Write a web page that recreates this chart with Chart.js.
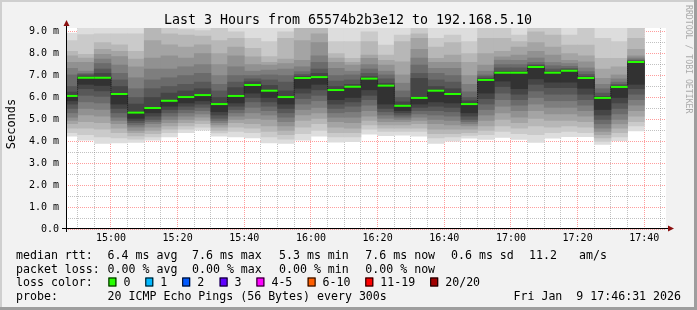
<!DOCTYPE html>
<html><head><meta charset="utf-8">
<script src="https://cdn.jsdelivr.net/npm/chart.js@4.4.1/dist/chart.umd.min.js"></script>
<style>html,body{margin:0;padding:0;background:#f2f2f2}canvas{display:block}</style>
</head><body>
<canvas id="c" width="697" height="310"></canvas>
<script>
// ---- data ----
const windowStart = '14:46:31';
const windowEnd = '17:46:31';
const slotStarts = ['14:45','14:50','14:55','15:00','15:05','15:10','15:15','15:20','15:25','15:30','15:35','15:40','15:45','15:50','15:55','16:00','16:05','16:10','16:15','16:20','16:25','16:30','16:35','16:40','16:45','16:50','16:55','17:00','17:05','17:10','17:15','17:20','17:25','17:30','17:35'];
const medians = [6.07,6.90,6.90,6.16,5.31,5.52,5.85,6.02,6.11,5.70,6.07,6.57,6.31,6.02,6.89,6.93,6.34,6.49,6.86,6.54,5.62,5.98,6.31,6.16,5.70,6.80,7.13,7.13,7.39,7.13,7.22,6.89,5.98,6.48,7.62];
// 20 sorted ping times (ms) per 5-minute slot
const sortedPings = [
  [4.23,4.4,4.6,4.8,4.95,5.1,5.3,5.5,5.7,5.85,6.08,6.25,6.5,7.03,7.33,7.6,7.9,8.1,8.6,8.94],
  [4.05,4.3,4.6,4.9,5.2,5.5,5.8,6.1,6.4,6.6,6.92,6.98,7.05,7.1,7.2,7.6,7.8,7.97,8.87,9.3],
  [3.90,4.2,4.55,4.85,5.15,5.45,5.75,6.05,6.3,6.55,6.92,7.1,7.3,7.55,7.75,7.97,8.2,8.5,8.9,9.3],
  [3.93,4.15,4.4,4.6,4.8,4.95,5.1,5.3,5.5,5.7,6.18,6.5,6.8,7.1,7.48,7.87,8.1,8.4,8.9,9.3],
  [3.95,4.1,4.25,4.4,4.5,4.65,4.75,4.85,4.95,5.05,5.33,5.7,6.0,6.4,6.9,7.4,7.75,8.1,8.9,9.3],
  [4.05,4.2,4.35,4.5,4.65,4.8,4.9,5.0,5.15,5.3,5.55,6.0,6.4,6.8,7.3,7.8,8.6,9.2,9.25,9.3],
  [4.20,4.4,4.55,4.7,4.85,5.0,5.15,5.3,5.45,5.6,5.87,6.2,6.5,6.9,7.3,7.9,8.4,8.9,9.2,9.3],
  [4.39,4.55,4.7,4.85,5.0,5.15,5.3,5.45,5.6,5.75,6.04,6.3,6.6,7.0,7.4,7.8,8.3,8.85,9.1,9.3],
  [4.51,4.65,4.8,4.95,5.1,5.25,5.4,5.55,5.7,5.85,6.13,6.4,6.7,7.1,7.5,8.0,8.4,8.8,9.05,9.3],
  [4.23,4.38,4.5,4.65,4.75,4.85,4.95,5.05,5.2,5.35,5.72,6.0,6.3,6.6,7.0,7.5,8.0,8.6,9.2,9.3],
  [4.20,4.45,4.65,4.85,5.0,5.15,5.3,5.45,5.6,5.75,6.09,6.45,6.7,7.0,7.4,7.9,8.3,8.7,9.0,9.3],
  [4.16,4.4,4.6,4.8,5.05,5.3,5.55,5.8,6.0,6.2,6.59,6.72,6.85,7.0,7.2,7.5,7.85,8.24,8.7,9.3],
  [3.93,4.2,4.45,4.7,5.0,5.2,5.4,5.6,5.8,6.0,6.33,6.55,6.8,7.03,7.25,7.48,7.6,7.87,8.55,9.3],
  [3.90,4.1,4.3,4.5,4.7,4.9,5.1,5.3,5.5,5.7,6.04,6.3,6.7,7.0,7.3,7.55,7.75,8.7,9.0,9.3],
  [4.05,4.35,4.65,4.95,5.2,5.45,5.7,5.95,6.2,6.42,6.91,6.97,7.05,7.18,7.4,7.7,8.6,9.2,9.25,9.3],
  [4.23,4.5,4.8,5.05,5.3,5.55,5.85,6.1,6.35,6.6,6.95,7.1,7.3,7.6,7.9,8.5,8.9,9.2,9.25,9.3],
  [3.96,4.2,4.4,4.65,4.9,5.1,5.3,5.5,5.7,5.9,6.36,6.5,6.75,7.0,7.33,7.6,7.8,8.0,8.55,9.3],
  [3.98,4.2,4.4,4.6,4.85,5.1,5.35,5.6,5.8,6.0,6.51,6.6,6.8,7.03,7.2,7.48,7.6,7.79,8.55,9.3],
  [4.33,4.55,4.75,4.95,5.15,5.4,5.65,5.9,6.1,6.35,6.88,6.95,7.1,7.3,7.5,7.79,7.94,8.55,9.0,9.3],
  [4.26,4.45,4.6,4.75,4.9,5.05,5.2,5.35,5.5,5.7,6.56,6.65,6.85,7.03,7.2,7.48,7.7,7.94,8.39,9.3],
  [4.28,4.45,4.6,4.75,4.9,5.0,5.1,5.2,5.3,5.4,5.64,5.8,6.0,6.3,6.65,7.03,7.63,8.55,8.85,9.3],
  [4.24,4.45,4.6,4.8,4.95,5.1,5.25,5.4,5.55,5.7,6.0,6.87,7.1,7.48,7.8,8.2,8.7,8.9,9.2,9.3],
  [3.91,4.15,4.35,4.55,4.8,5.0,5.2,5.4,5.6,5.8,6.33,6.5,6.8,7.1,7.33,7.6,7.79,8.3,8.7,9.3],
  [4.01,4.2,4.35,4.55,4.75,4.95,5.15,5.35,5.55,5.75,6.18,6.4,6.7,7.0,7.33,7.6,7.94,8.5,8.85,9.3],
  [4.14,4.27,4.4,4.55,4.7,4.8,4.9,5.0,5.15,5.3,5.72,5.85,6.0,6.26,6.6,7.0,7.6,8.0,8.55,9.3],
  [4.09,4.3,4.5,4.7,4.95,5.2,5.45,5.7,5.95,6.2,6.82,6.87,6.95,7.03,7.2,7.48,8.0,8.7,9.2,9.3],
  [4.18,4.45,4.7,5.0,5.3,5.6,5.9,6.2,6.5,6.75,7.15,7.2,7.35,7.5,7.7,7.85,8.1,8.7,9.2,9.3],
  [4.09,4.35,4.6,4.85,5.1,5.4,5.65,5.9,6.15,6.4,7.15,7.2,7.35,7.5,7.7,7.94,8.3,8.55,8.85,9.3],
  [3.95,4.3,4.7,5.05,5.4,5.7,6.0,6.3,6.6,6.85,7.41,7.45,7.5,7.6,7.8,8.1,8.5,8.99,9.2,9.3],
  [4.14,4.4,4.65,4.95,5.25,5.55,5.85,6.15,6.45,6.7,7.15,7.2,7.3,7.45,7.6,7.94,8.3,8.85,9.2,9.3],
  [4.21,4.45,4.7,4.95,5.25,5.55,5.85,6.15,6.45,6.7,7.24,7.27,7.33,7.42,7.55,7.7,8.0,8.39,8.85,9.3],
  [4.21,4.4,4.65,4.9,5.15,5.4,5.65,5.9,6.15,6.42,6.91,6.95,7.05,7.18,7.35,7.63,7.9,8.39,9.2,9.3],
  [3.86,4.0,4.15,4.3,4.45,4.6,4.8,5.0,5.2,5.45,6.0,6.05,6.2,6.4,6.6,6.87,7.3,7.79,8.7,9.3],
  [4.03,4.2,4.4,4.6,4.8,5.0,5.25,5.5,5.75,6.0,6.5,6.53,6.6,6.7,6.85,7.03,7.4,7.79,8.55,9.3],
  [4.48,4.7,4.9,5.15,5.4,5.65,5.9,6.15,6.4,6.6,7.64,7.65,7.68,7.72,7.8,7.9,8.2,8.7,9.2,9.3]
];
const xTickLabels = ['15:00','15:20','15:40','16:00','16:20','16:40','17:00','17:20','17:40'];
const yTickLabels = ['0.0','1.0 m','2.0 m','3.0 m','4.0 m','5.0 m','6.0 m','7.0 m','8.0 m','9.0 m'];
const titleText = 'Last 3 Hours from 65574b2b3e12 to 192.168.5.10';
const statsRtt = ['6.4 ms avg','7.6 ms max','5.3 ms min','7.6 ms now','0.6 ms sd','11.2','am/s'];
const statsLoss = ['0.00 % avg','0.00 % max','0.00 % min','0.00 % now'];
const lossLabels = ['0','1','2','3','4-5','6-10','11-19','20/20'];
const lossColors = ['#26ff00','#00b8ff','#0059ff','#5e00ff','#ff00ff','#ff5e00','#ff0000','#a10000'];
const probeText = '20 ICMP Echo Pings (56 Bytes) every 300s';
const dateText = 'Fri Jan  9 17:46:31 2026';

// ---- helpers ----
const toMin = s => { const p = s.split(':').map(Number); return p[0]*60 + p[1] + (p[2]||0)/60; };
const tStart = toMin(windowStart), tEnd = toMin(windowEnd);
const STEP = 5;
const centers = slotStarts.map(s => toMin(s) + STEP/2);
const fmt = v => { const h = Math.floor(v/60), m = Math.round(v - h*60); return String(h).padStart(2,'0')+':'+String(m).padStart(2,'0'); };
const MONO = '"DejaVu Sans Mono", monospace';
const MAJ = 'rgba(255,60,60,0.5)', MIN = 'rgba(120,120,120,0.45)';

const datasets = [];
datasets.push({
  type: 'line', data: centers.map((x,i)=>({x, y: medians[i]})),
  stepped: 'middle', borderColor: '#202020', borderWidth: 1, borderDash: [1,1],
  pointRadius: 0, order: 1, clip: 0
});
datasets.push({
  type: 'line', data: centers.map((x,i)=>({x, y: medians[i]})),
  showLine: false, pointStyle: 'line',
  pointRadius: ctx => { const s = ctx.chart.scales.x; return (s.getPixelForValue(STEP) - s.getPixelForValue(0))/2; },
  pointBorderWidth: 2, pointBorderColor: '#26ff00', pointHoverRadius: 0, order: 0, clip: 0
});
// smoke: pairs (1,20), (2,19) ... (10,11), lighter outside, darker inside
const N = 20, HALF = N/2;
for (let k = 0; k < HALF; k++) {
  const g = Math.floor(190/HALF * (HALF - (k+1))) + 50;
  const hex = g.toString(16).padStart(2,'0');
  datasets.push({
    type: 'bar',
    data: centers.map((x,i)=>({x, y: [sortedPings[i][k], sortedPings[i][N-1-k]]})),
    backgroundColor: '#' + hex + hex + hex, borderWidth: 0, grouped: false,
    barPercentage: 1, categoryPercentage: 1, order: 100 - k, clip: 0
  });
}

const deco = {
  id: 'deco',
  beforeDraw(chart) {
    const c = chart.ctx, a = chart.chartArea;
    c.save();
    c.fillStyle = '#f2f2f2'; c.fillRect(0,0,697,310);
    c.fillStyle = '#cfcfcf'; c.fillRect(0,0,697,2); c.fillRect(0,0,2,310);
    c.fillStyle = '#9e9e9e'; c.fillRect(0,307,697,3); c.fillRect(694,0,3,310);
    c.fillStyle = '#ffffff'; c.fillRect(a.left, a.top, a.right-a.left, a.bottom-a.top);
    c.restore();
  },
  afterDraw(chart) {
    const c = chart.ctx, a = chart.chartArea;
    c.save();
    c.strokeStyle = '#000'; c.lineWidth = 1;
    c.beginPath();
    c.moveTo(a.left - 4, a.bottom - 0.5); c.lineTo(a.right + 3, a.bottom - 0.5);
    c.moveTo(a.left + 0.5, a.bottom + 3); c.lineTo(a.left + 0.5, a.top - 4);
    c.stroke();
    c.fillStyle = '#8b1010';
    c.beginPath();
    c.moveTo(a.right + 8, a.bottom - 0.5); c.lineTo(a.right + 2, a.bottom - 3.5); c.lineTo(a.right + 2, a.bottom + 2.5); c.closePath(); c.fill();
    c.beginPath();
    c.moveTo(a.left + 0.5, a.top - 8); c.lineTo(a.left - 2.5, a.top - 2); c.lineTo(a.left + 3.5, a.top - 2); c.closePath(); c.fill();
    c.fillStyle = '#000';
    c.font = '13.3px ' + MONO; c.textAlign = 'center'; c.textBaseline = 'alphabetic';
    c.fillText(titleText, 348, 24);
    c.save(); c.translate(15, 124); c.rotate(-Math.PI/2);
    c.font = '12px ' + MONO; c.textAlign = 'center'; c.fillText('Seconds', 0, 0);
    c.restore();
    c.save(); c.translate(686, 5); c.rotate(Math.PI/2);
    c.font = '8.2px ' + MONO; c.textAlign = 'left'; c.fillStyle = '#aaaaaa';
    c.fillText('RRDTOOL / TOBI OETIKER', 0, 0);
    c.restore();
    c.font = '11.6px ' + MONO; c.textAlign = 'left'; c.fillStyle = '#000';
    const rttX = [107.6,192,279,365.3,451,529,579];
    c.fillText('median rtt:', 16, 259);
    statsRtt.forEach((t,i)=>c.fillText(t, rttX[i], 259));
    c.fillText('packet loss:', 16, 272.5);
    statsLoss.forEach((t,i)=>c.fillText(t, rttX[i], 272.5));
    c.fillText('loss color:', 16, 286);
    const boxX = [108.4,145.3,182.2,219.6,256.4,307.6,365.3,430.2];
    lossLabels.forEach((t,i)=>{
      c.fillStyle = lossColors[i]; c.fillRect(boxX[i], 277.5, 8, 9);
      c.strokeStyle = '#000'; c.strokeRect(boxX[i]+0.5, 277.5+0.5, 7, 8);
      c.fillStyle = '#000'; c.fillText(t, boxX[i] + 15, 286);
    });
    c.fillText('probe:', 16, 300);
    c.fillText(probeText, 107.6, 300);
    c.textAlign = 'right'; c.fillText(dateText, 681, 300);
    c.restore();
  }
};

new Chart(document.getElementById('c'), {
  data: { datasets },
  options: {
    responsive: false, animation: false, events: [],
    layout: { padding: { left: 0, right: 31, top: 28, bottom: 0 } },
    plugins: { legend: { display: false }, tooltip: { enabled: false } },
    scales: {
      x: {
        type: 'linear', min: tStart, max: tEnd, z: 1, offset: false,
        afterBuildTicks: s => { const t = []; for (let v = Math.ceil(tStart/STEP)*STEP; v <= tEnd; v += STEP) t.push({value: v}); s.ticks = t; },
        afterFit: s => { s.height = 81; s.paddingLeft = 0; s.paddingRight = 0; },
        grid: { offset: false, color: ctx => (ctx.tick && xTickLabels.includes(fmt(ctx.tick.value))) ? MAJ : MIN, lineWidth: 1, drawTicks: false },
        border: { display: false, dash: [1,1] },
        ticks: { autoSkip: false, maxRotation: 0, padding: 3, color: '#000',
          font: { family: MONO, size: 10 },
          callback: v => xTickLabels.includes(fmt(v)) ? fmt(v) : '' }
      },
      y: {
        type: 'linear', min: 0, max: 9.17, z: 1,
        afterBuildTicks: s => { const t = []; for (let v = 0; v <= 9; v += 0.5) t.push({value: v}); s.ticks = t; },
        afterFit: s => { s.width = 66; s.paddingTop = 0; s.paddingBottom = 0; },
        grid: { color: ctx => (ctx.tick && Number.isInteger(ctx.tick.value)) ? MAJ : MIN, lineWidth: 1, drawTicks: false },
        border: { display: false, dash: [1,1] },
        ticks: { autoSkip: false, padding: 7, color: '#000',
          font: { family: MONO, size: 10 },
          callback: v => Number.isInteger(v) ? yTickLabels[v] : '' }
      }
    }
  },
  plugins: [deco]
});
</script>
</body></html>
